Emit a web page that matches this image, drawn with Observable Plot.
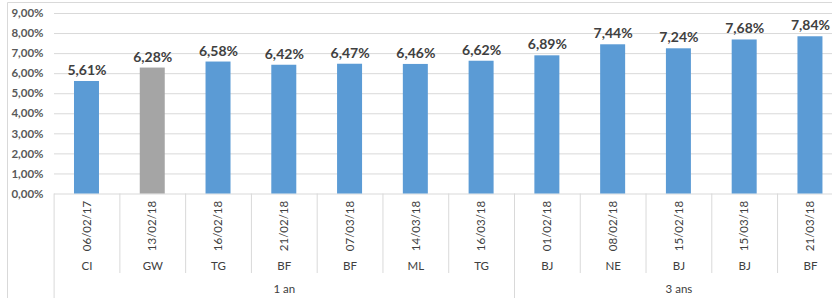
<!DOCTYPE html>
<html>
<head>
<meta charset="utf-8">
<script src="https://cdn.jsdelivr.net/npm/d3@7"></script>
<script src="https://cdn.jsdelivr.net/npm/@observablehq/plot@0.6"></script>
<style>
  html, body { margin: 0; padding: 0; background: #fff; }
  #chart { position: relative; width: 832px; height: 298px; overflow: hidden; }
</style>
</head>
<body>
<div id="chart"></div>
<script>
// ---- Data ----
const dates = ["06/02/17","13/02/18","16/02/18","21/02/18","07/03/18","14/03/18","16/03/18","01/02/18","08/02/18","15/02/18","15/03/18","21/03/18"];
const countries = ["CI","GW","TG","BF","BF","ML","TG","BJ","NE","BJ","BJ","BF"];
const rates = [5.61, 6.28, 6.58, 6.42, 6.47, 6.46, 6.62, 6.89, 7.44, 7.24, 7.68, 7.84];
const groups = ["1 an","1 an","1 an","1 an","1 an","1 an","1 an","3 ans","3 ans","3 ans","3 ans","3 ans"];
const highlighted = ["GW"];
const yTicks = [0, 1, 2, 3, 4, 5, 6, 7, 8, 9];

// ---- Derived table ----
const rows = rates.map((v, i) => ({i, date: dates[i], country: countries[i], rate: v, group: groups[i]}));
const groupNames = Array.from(new Set(groups));
const groupSpans = groupNames.map(g => {
  const idx = rows.filter(r => r.group === g).map(r => r.i);
  return {group: g, start: d3.min(idx), end: d3.max(idx) + 1};
});
const boundaries = d3.range(0, rows.length + 1);
const groupBoundaries = new Set(groupSpans.flatMap(s => [s.start, s.end]));

const fmt = v => v.toFixed(2).replace(".", ",") + "%";
const BLUE = "#5b9bd5", GRAY = "#a5a5a5", GRID = "#d9d9d9";
const FONT = "Lato, 'Open Sans', sans-serif";

const W = 832, H = 298;
const y0px = 193.5, y9px = 13;
const perUnit = (y0px - y9px) / 9;
const toY = px => -(px - y0px) / perUnit; // pixel below baseline -> y units

const plot = Plot.plot({
  width: W,
  height: H,
  marginLeft: 54,
  marginRight: 0,
  marginTop: y9px,
  marginBottom: H - y0px,
  style: {fontFamily: FONT, background: "transparent", overflow: "visible"},
  x: {type: "linear", domain: [0, rows.length], range: [53.6, 53.6 + 12 * 65.77], axis: null},
  y: {domain: [0, 9], label: null},
  marks: [
    Plot.ruleY(yTicks, {stroke: GRID, strokeWidth: 1}),
    Plot.axisY({ticks: yTicks, tickFormat: fmt, tickSize: 0, tickPadding: 11, label: null,
      fontSize: 11.5, fontWeight: "bold", fill: "#595959"}),
    Plot.rectY(rows, {x1: d => d.i + 0.31, x2: d => d.i + 0.69, y1: 0, y2: "rate",
      fill: d => highlighted.includes(d.country) ? GRAY : BLUE}),
    Plot.text(rows, {x: d => d.i + 0.5, y: "rate", text: d => fmt(d.rate), dy: -11,
      fontSize: 14, fontWeight: "bold", fill: "#404040"}),
    // category separators
    Plot.ruleX(boundaries, {x: d => d, y1: 0,
      y2: d => groupBoundaries.has(d) ? toY(300) : toY(273), stroke: GRID, strokeWidth: 1}),
    // date labels
    Plot.text(rows, {x: d => d.i + 0.5, y: 0, text: "date", rotate: -90, dy: 32,
      fontSize: 11.5, fill: "#404040"}),
    // country labels
    Plot.text(rows, {x: d => d.i + 0.5, y: 0, text: "country", dy: 72.5,
      fontSize: 11.5, fill: "#404040"}),
    // group labels
    Plot.text(groupSpans, {x: d => (d.start + d.end) / 2, y: 0, text: "group", dy: 95.5,
      fontSize: 11.5, fill: "#404040"})
  ]
});

// outer chart border (left and top edges visible)
d3.select(plot).append("path")
  .attr("d", `M7.5,${H} V2.5 H${W}`)
  .attr("fill", "none")
  .attr("stroke", GRID)
  .attr("stroke-width", 1);

document.getElementById("chart").appendChild(plot);
</script>
</body>
</html>
